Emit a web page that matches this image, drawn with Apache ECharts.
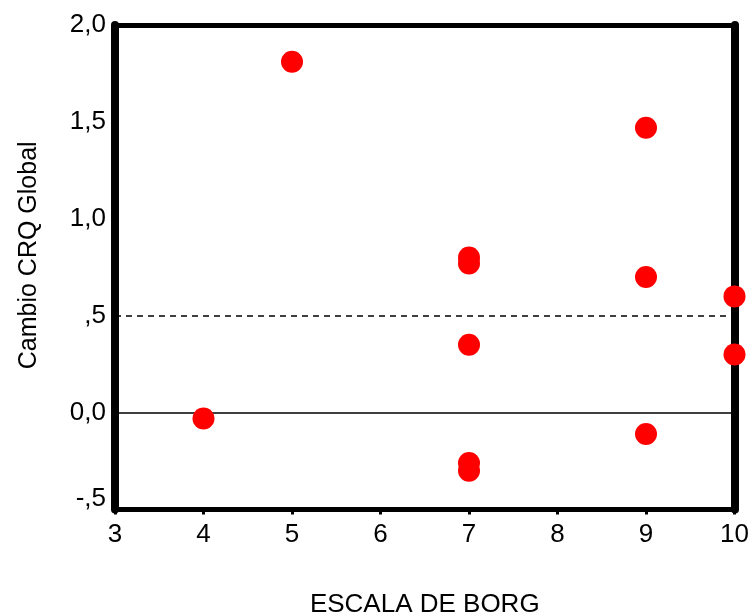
<!DOCTYPE html>
<html>
<head>
<meta charset="utf-8">
<script src="https://cdn.jsdelivr.net/npm/echarts@6/dist/echarts.min.js"></script>
<style>
  html, body { margin: 0; padding: 0; background: #fff; }
  #chart { width: 753px; height: 615px; }
</style>
</head>
<body>
<div id="chart"></div>
<script>
// Borg scale score and change in global CRQ for each patient
const borgScore = [4, 5, 7, 7, 7, 7, 7, 9, 9, 9, 10, 10];
const crqChange = [-0.03, 1.81, 0.80, 0.77, 0.35, -0.26, -0.30, 1.47, 0.70, -0.11, 0.60, 0.30];

// Reference lines: zero change (solid) and 0.5 threshold (dashed)
const zeroLine = 0;
const thresholdLine = 0.5;

// Y tick labels in the Spanish decimal style
const yTickValues = [-0.5, 0, 0.5, 1, 1.5, 2];
const yTickLabels = ['-,5', '0,0', ',5', '1,0', '1,5', '2,0'];

const FONT = '"Liberation Sans", Arial, sans-serif';

const chart = echarts.init(document.getElementById('chart'), null, { renderer: 'canvas' });

const points = borgScore.map((x, i) => [x, crqChange[i]]);

chart.setOption({
  animation: false,
  backgroundColor: '#ffffff',
  grid: {
    left: 115, right: 18.5, top: 25, bottom: 105.4,
    containLabel: false, outerBoundsMode: 'none'
  },
  xAxis: [
    {
      type: 'value', min: 3, max: 10, interval: 1, position: 'bottom',
      name: 'ESCALA DE BORG', nameLocation: 'middle', nameGap: 82,
      nameTextStyle: { fontFamily: FONT, fontSize: 26, color: '#000' },
      axisLine: { show: true, onZero: false, lineStyle: { color: '#000', width: 5 } },
      axisTick: { show: true, length: 5, lineStyle: { color: '#000', width: 3 } },
      axisLabel: { fontFamily: FONT, fontSize: 26, color: '#000', margin: 12 },
      splitLine: { show: false }
    },
    {
      type: 'value', min: 3, max: 10, position: 'top',
      axisLine: { show: true, onZero: false, lineStyle: { color: '#000', width: 5 } },
      axisTick: { show: false }, axisLabel: { show: false }, splitLine: { show: false }
    }
  ],
  yAxis: [
    {
      type: 'value', min: -0.5, max: 2, interval: 0.5, position: 'left',
      name: 'Cambio CRQ Global', nameLocation: 'middle', nameGap: 73,
      nameTextStyle: { fontFamily: FONT, fontSize: 25, color: '#000', padding: [0, 0, 0, 24] },
      axisLine: { show: true, onZero: false, lineStyle: { color: '#000', width: 8 } },
      axisTick: { show: false },
      axisLabel: {
        fontFamily: FONT, fontSize: 26, color: '#000', margin: 9,
        formatter: function (v) {
          const idx = yTickValues.findIndex(t => Math.abs(t - v) < 1e-9);
          const txt = idx >= 0 ? yTickLabels[idx] : String(v);
          return idx === 0 ? '{low|' + txt + '}' : txt;
        },
        rich: {
          low: { fontFamily: FONT, fontSize: 26, color: '#000', padding: [0, 0, 22, 0] }
        }
      },
      splitLine: { show: false }
    },
    {
      type: 'value', min: -0.5, max: 2, position: 'right',
      axisLine: { show: true, onZero: false, lineStyle: { color: '#000', width: 8 } },
      axisTick: { show: false }, axisLabel: { show: false }, splitLine: { show: false }
    }
  ],
  series: [
    {
      type: 'scatter',
      xAxisIndex: 0, yAxisIndex: 0,
      data: points,
      symbol: 'circle',
      symbolSize: 22,
      itemStyle: { color: '#ff0000', opacity: 1 },
      z: 5,
      markLine: {
        silent: true,
        symbol: ['none', 'none'],
        label: { show: false },
        animation: false,
        data: [
          { yAxis: zeroLine, lineStyle: { color: '#000', width: 1.5, type: 'solid' } },
          { yAxis: thresholdLine, lineStyle: { color: '#000', width: 1.5, type: [6, 5] } }
        ]
      }
    }
  ]
});
</script>
</body>
</html>
